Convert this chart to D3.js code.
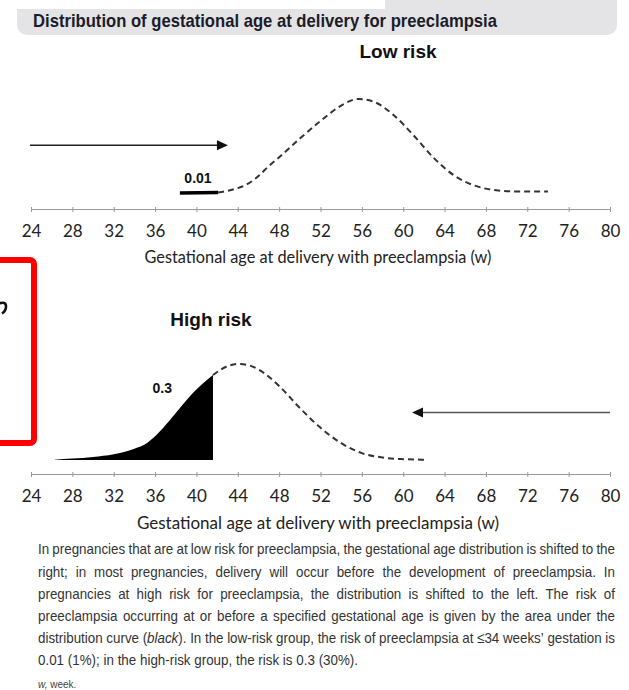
<!DOCTYPE html>
<html><head><meta charset="utf-8">
<script src="https://cdn.jsdelivr.net/npm/d3@7"></script>
<style>
body{margin:0;background:#fff;width:629px;height:690px;overflow:hidden;}
svg{display:block;}
</style></head><body>
<script>
// ---------- data ----------
const weekTicks = [24,28,32,36,40,44,48,52,56,60,64,68,72,76,80];
const axisTitle = "Gestational age at delivery with preeclampsia (w)";
const chartTitle = "Distribution of gestational age at delivery for preeclampsia";
const panelTitles = ["Low risk", "High risk"];
const riskLabels = ["0.01", "0.3"];

// Low risk: shaded (solid) part and dashed remainder
const lowShadedWeeks  = [38.4, 42.1];
const lowShadedValues = [0.145, 0.15];
const lowWeeks  = [42.1, 43, 44, 45, 46, 47, 48, 50, 52, 54, 55.6, 57, 59, 61, 63, 65, 67, 69, 71, 74];
const lowValues = [0.15, 0.165, 0.19, 0.23, 0.3, 0.39, 0.47, 0.64, 0.8, 0.94, 1.0, 0.98, 0.86, 0.67, 0.46, 0.3, 0.21, 0.17, 0.16, 0.16];

// High risk: shaded (black) area and dashed remainder
const highShadedWeeks  = [26.3, 28, 30, 32, 34, 35.2, 36.5, 37.7, 39.7, 41.6];
const highShadedValues = [0.13, 0.14, 0.155, 0.18, 0.23, 0.28, 0.39, 0.52, 0.74, 0.9];
const highBase = 0.127;
const highWeeks  = [41.6, 43, 44, 45, 46, 48, 50, 52, 54, 56, 58, 60, 62.1];
const highValues = [0.9, 0.98, 1.0, 0.99, 0.95, 0.8, 0.6, 0.42, 0.28, 0.19, 0.15, 0.135, 0.13];

// Arrows (weeks, level)
const lowArrow  = {from: 23.9, to: 43.05, level: 0.58};
const highArrow = {from: 80, to: 60.85, level: 0.56};

const captionLines = [
  "In pregnancies that are at low risk for preeclampsia, the gestational age distribution is shifted to the",
  "right; in most pregnancies, delivery will occur before the development of preeclampsia. In",
  "pregnancies at high risk for preeclampsia, the distribution is shifted to the left. The risk of",
  "preeclampsia occurring at or before a specified gestational age is given by the area under the",
  "distribution curve (*black*). In the low-risk group, the risk of preeclampsia at \u226434 weeks\u2019 gestation is",
  "0.01 (1%); in the high-risk group, the risk is 0.3 (30%)."
];

// ---------- drawing ----------
const W = 629, H = 690;
const svg = d3.select("body").append("svg").attr("width", W).attr("height", H);

// header
svg.append("rect").attr("x", 17).attr("y", -15).attr("width", 600).attr("height", 50)
  .attr("rx", 10).attr("fill", "#e4e4e7");
svg.append("rect").attr("x", 0).attr("y", 0).attr("width", 385).attr("height", 9).attr("fill", "#fff");
svg.append("text").attr("x", 33).attr("y", 26.5)
  .attr("font-family", "'Liberation Sans', Arial, sans-serif")
  .attr("font-weight", "bold").attr("font-size", 19).attr("fill", "#1c1c28")
  .attr("textLength", 464).attr("lengthAdjust", "spacingAndGlyphs")
  .text(chartTitle);

const x = d3.scaleLinear().domain([24, 80]).range([31, 610]);
const yTop = d3.scaleLinear().domain([0, 1]).range([209, 99]);
const yBot = d3.scaleLinear().domain([0, 1]).range([474, 364]);

function drawAxis(yAxisPos, titleY, fs) {
  const g = svg.append("g").attr("transform", `translate(0,${yAxisPos})`)
    .call(d3.axisBottom(x).tickValues(weekTicks).tickSizeInner(4).tickSizeOuter(0).tickPadding(11.5));
  g.select(".domain").attr("stroke", "#9a9a9a").attr("stroke-width", 1.2);
  g.selectAll(".tick line").attr("stroke", "#9a9a9a").attr("y1", -2).attr("y2", 3);
  g.selectAll(".tick text").attr("font-family", "Lato, 'Open Sans', sans-serif")
    .attr("font-size", 17).attr("fill", "#222");
  svg.append("text").attr("x", 318).attr("y", titleY).attr("text-anchor", "middle")
    .attr("font-family", "Lato, 'Open Sans', sans-serif").attr("font-size", fs).attr("fill", "#222")
    .text(axisTitle);
}
drawAxis(209, 263, 16.3);
drawAxis(474, 529, 17);

const dashed = (sel) => sel.attr("fill", "none").attr("stroke", "#333").attr("stroke-width", 2)
  .attr("stroke-dasharray", "6,4");

function arrow(a, yScale, color) {
  const y0 = yScale(a.level);
  const x1 = x(a.from), x2 = x(a.to);
  const dir = Math.sign(x2 - x1);
  svg.append("line").attr("x1", x1).attr("y1", y0).attr("x2", x2 - dir * 8).attr("y2", y0)
    .attr("stroke", color).attr("stroke-width", 1.5);
  svg.append("path")
    .attr("d", `M${x2},${y0} L${x2 - dir * 11},${y0 - 5} L${x2 - dir * 11},${y0 + 5} Z`)
    .attr("fill", "#111");
}

// ---- low risk panel ----
svg.append("text").attr("x", 398).attr("y", 58).attr("text-anchor", "middle")
  .attr("font-family", "'Liberation Sans', Arial, sans-serif").attr("font-weight", "bold")
  .attr("font-size", 19).attr("fill", "#111").text(panelTitles[0]);

const lowLine = d3.line().x(d => x(d[0])).y(d => yTop(d[1])).curve(d3.curveMonotoneX);
svg.append("path").datum(d3.zip(lowWeeks, lowValues)).attr("d", lowLine).call(dashed);
svg.append("path").datum(d3.zip(lowShadedWeeks, lowShadedValues)).attr("d", lowLine)
  .attr("fill", "none").attr("stroke", "#000").attr("stroke-width", 3.5);
svg.append("text").attr("x", x(40.15)).attr("y", 183).attr("text-anchor", "middle")
  .attr("font-family", "'Liberation Sans', Arial, sans-serif").attr("font-weight", "bold")
  .attr("font-size", 14).attr("fill", "#111").text(riskLabels[0]);
arrow(lowArrow, yTop, "#222");

// ---- high risk panel ----
svg.append("text").attr("x", 211).attr("y", 326).attr("text-anchor", "middle")
  .attr("font-family", "'Liberation Sans', Arial, sans-serif").attr("font-weight", "bold")
  .attr("font-size", 19).attr("fill", "#111").text(panelTitles[1]);

const highArea = d3.area().x(d => x(d[0])).y0(yBot(highBase)).y1(d => yBot(d[1])).curve(d3.curveMonotoneX);
svg.append("path").datum(d3.zip(highShadedWeeks, highShadedValues)).attr("d", highArea).attr("fill", "#000");
const highLine = d3.line().x(d => x(d[0])).y(d => yBot(d[1])).curve(d3.curveMonotoneX);
svg.append("path").datum(d3.zip(highWeeks, highValues)).attr("d", highLine).call(dashed);
svg.append("text").attr("x", x(36.7)).attr("y", 393).attr("text-anchor", "middle")
  .attr("font-family", "'Liberation Sans', Arial, sans-serif").attr("font-weight", "bold")
  .attr("font-size", 14).attr("fill", "#111").text(riskLabels[1]);
arrow(highArrow, yBot, "#555");

// ---- red frame (cropped) with cut-off glyph fragment ----
svg.append("path").attr("d", "M-1,303.5 Q6,301 6,306.5 Q6,311 2,313.5")
  .attr("fill", "none").attr("stroke", "#111").attr("stroke-width", 2.6);
svg.append("rect").attr("x", -20).attr("y", 260).attr("width", 54).attr("height", 183)
  .attr("rx", 4).attr("fill", "none").attr("stroke", "#ff0000").attr("stroke-width", 6);

// ---- caption (justified, condensed) ----
const capFont = "'Liberation Sans', Arial, sans-serif";
const capX = 38, capW = 577, capFs = 15, minGap = 3.2;
const capG = svg.append("g").attr("font-family", capFont).attr("font-size", capFs).attr("fill", "#333");
function fill(t, w) {
  w.split("*").forEach((seg, k) => { if (seg) t.append("tspan").attr("font-style", k % 2 ? "italic" : null).text(seg); });
}
const measured = captionLines.map(line => {
  const words = line.split(" ");
  const widths = words.map(w => {
    const t = capG.append("text").attr("x", -1000).attr("y", -1000);
    fill(t, w);
    const len = t.node().getComputedTextLength();
    t.remove();
    return len;
  });
  return {words, widths, total: d3.sum(widths)};
});
// horizontal condensation so that the fullest justified line still fits
const s = d3.min(measured.slice(0, -1), m => (capW - (m.words.length - 1) * minGap) / m.total);
const capInner = capG.append("g").attr("transform", `translate(${capX},0) scale(${s},1)`);
measured.forEach((m, li) => {
  const yb = 554.5 + li * 22.2;
  const last = li === measured.length - 1;
  const gap = last ? capFs * 0.28 : (capW / s - m.total) / (m.words.length - 1);
  let cx = 0;
  m.words.forEach((w, i) => {
    const t = capInner.append("text").attr("x", cx).attr("y", yb);
    fill(t, w);
    cx += m.widths[i] + gap;
  });
});
const foot = svg.append("text").attr("x", 38).attr("y", 688).attr("font-family", capFont)
  .attr("font-size", 10).attr("fill", "#444");
foot.append("tspan").attr("font-style", "italic").text("w,");
foot.append("tspan").text(" week.");
</script>
</body></html>
